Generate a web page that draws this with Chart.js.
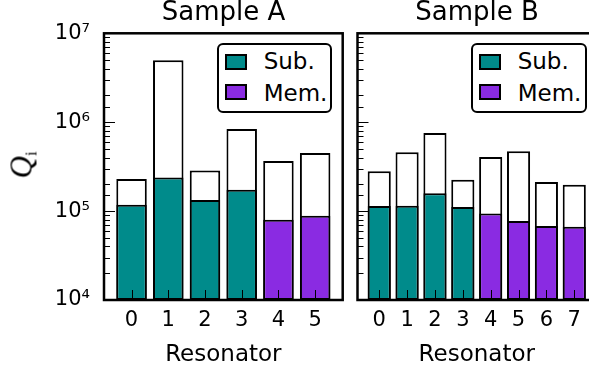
<!DOCTYPE html>
<html>
<head>
<meta charset="utf-8">
<script src="https://cdn.jsdelivr.net/npm/chart.js@4.4.1/dist/chart.umd.min.js"></script>
<style>
  html, body { margin: 0; padding: 0; width: 589px; height: 375px; overflow: hidden; background: #fff; }
  body { position: relative; font-family: "DejaVu Sans", sans-serif; color: #000; }
  canvas { position: absolute; top: 0; }
  #chartA { left: 0; }
  #chartB { left: 350px; }
  .title { position: absolute; top: -2px; font-size: 26px; line-height: 26px; white-space: nowrap; transform: translateX(-50%); }
  .legend { position: absolute; top: 43px; height: 70px; border: 2px solid #000; border-radius: 6px; background: #fff; box-sizing: border-box; }
  .legend .sw { position: absolute; left: 6px; width: 22px; height: 16px; border: 2px solid #000; box-sizing: border-box; }
  .legend .lb { position: absolute; left: 45px; font-size: 23px; line-height: 23px; white-space: nowrap; }
  #ylabel { position: absolute; left: 26px; top: 165px; transform: translate(-50%, -50%) rotate(-90deg); white-space: nowrap; font-family: "Liberation Serif", serif; font-size: 31px; line-height: 31px; }
  #ylabel i { font-style: italic; }
  #ylabel span { font-size: 16px; vertical-align: -5px; }
</style>
</head>
<body>
<canvas id="chartA" width="350" height="375"></canvas>
<canvas id="chartB" width="250" height="375"></canvas>

<div class="title" style="left:223.5px">Sample A</div>
<div class="title" style="left:477px">Sample B</div>
<div id="ylabel"><i>Q</i><span>i</span></div>

<div class="legend" style="left:216.7px; width:115px">
  <div class="sw" style="top:9px; background:#008b8b"></div>
  <div class="lb" style="top:5px">Sub.</div>
  <div class="sw" style="top:39px; background:#8a2be2"></div>
  <div class="lb" style="top:37px">Mem.</div>
</div>
<div class="legend" style="left:470.7px; width:116px">
  <div class="sw" style="top:9px; background:#008b8b"></div>
  <div class="lb" style="top:5px">Sub.</div>
  <div class="sw" style="top:39px; background:#8a2be2"></div>
  <div class="lb" style="top:37px">Mem.</div>
</div>

<script>
// Resonator indices of each sample.
const resonatorsA = [0, 1, 2, 3, 4, 5];
const resonatorsB = [0, 1, 2, 3, 4, 5, 6, 7];

// Layer each resonator sits on.
const layerA = ['Sub.', 'Sub.', 'Sub.', 'Sub.', 'Mem.', 'Mem.'];
const layerB = ['Sub.', 'Sub.', 'Sub.', 'Sub.', 'Mem.', 'Mem.', 'Mem.', 'Mem.'];

// Lower Qi (filled bars) and upper Qi (open bars).
const lowerA = [1.18e5, 2.39e5, 1.33e5, 1.74e5, 7.98e4, 8.85e4];
const upperA = [2.30e5, 4.98e6, 2.86e5, 8.40e5, 3.67e5, 4.49e5];
const lowerB = [1.14e5, 1.15e5, 1.59e5, 1.11e5, 9.40e4, 7.73e4, 6.78e4, 6.67e4];
const upperB = [2.81e5, 4.60e5, 7.58e5, 2.25e5, 4.05e5, 4.72e5, 2.12e5, 1.98e5];

// Y axis range and decade labels.
const yMin = 1e4;
const yMax = 1e7;
const supDigits = { 4: '\u2074', 5: '\u2075', 6: '\u2076', 7: '\u2077' };

const colours = { 'Sub.': '#008b8b', 'Mem.': '#8a2be2' };

Chart.defaults.font.family = '"DejaVu Sans", sans-serif';
Chart.defaults.color = '#000';

function isDecade(v) {
	const l = Math.log10(v);
	return Math.abs(l - Math.round(l)) < 1e-6;
}

// Inward tick marks and the black box round the plot.
const framePlugin = {
	id: 'frame',
	afterDatasetsDraw(chart) {
		const { ctx, chartArea: a, scales: { x, y } } = chart;
		ctx.save();
		ctx.strokeStyle = '#000';
		ctx.lineWidth = 1;
		ctx.beginPath();
		y.ticks.forEach(function (t) {
			const py = Math.round(y.getPixelForValue(t.value)) + 0.5;
			ctx.moveTo(a.left, py);
			ctx.lineTo(a.left + (isDecade(t.value) ? 11 : 6), py);
		});
		x.ticks.forEach(function (t) {
			const px = Math.round(x.getPixelForValue(t.value)) + 0.5;
			ctx.moveTo(px, a.bottom);
			ctx.lineTo(px, a.bottom - 10);
		});
		ctx.stroke();
		ctx.lineWidth = 2.5;
		ctx.strokeRect(a.left, a.top, a.right - a.left, a.bottom - a.top);
		ctx.restore();
	}
};

function makeChart(id, cats, layer, lower, upper, cfg) {
	const sub = [], mem = [], open = [];
	cats.forEach(function (c, i) {
		(layer[i] === 'Sub.' ? sub : mem).push({ x: c, y: lower[i] });
		open.push({ x: c, y: upper[i] });
	});
	const barStyle = {
		grouped: false,
		borderColor: '#000',
		borderWidth: 2,
		borderSkipped: false,
		barPercentage: 0.83,
		categoryPercentage: 1
	};
	return new Chart(document.getElementById(id), {
		type: 'bar',
		data: {
			datasets: [
				Object.assign({ label: 'Sub.', data: sub, backgroundColor: colours['Sub.'] }, barStyle),
				Object.assign({ label: 'Mem.', data: mem, backgroundColor: colours['Mem.'] }, barStyle),
				Object.assign({ label: 'Upper', data: open, backgroundColor: '#fff' }, barStyle)
			]
		},
		options: {
			responsive: false,
			animation: false,
			devicePixelRatio: 1,
			layout: { padding: { left: 0, top: 33.3, right: cfg.padRight, bottom: 0 } },
			plugins: { legend: { display: false }, tooltip: { enabled: false } },
			scales: {
				x: {
					type: 'linear',
					min: cfg.xMin,
					max: cfg.xMax,
					offset: false,
					grid: { display: false, drawTicks: false, offset: false },
					border: { display: false },
					afterBuildTicks: function (s) { s.ticks = cats.map(v => ({ value: v })); },
					afterFit: function (s) { s.height = 75; },
					ticks: { autoSkip: false, maxRotation: 0, padding: 7.7, font: { size: 21 }, callback: v => String(v) },
					title: { display: true, text: 'Resonator', font: { size: 23 }, padding: { top: 0, bottom: 6 } }
				},
				y: {
					type: 'logarithmic',
					min: yMin,
					max: yMax,
					grid: { display: false, drawTicks: false },
					border: { display: false },
					afterFit: function (s) { s.width = cfg.yWidth; },
					ticks: {
						display: cfg.yLabels,
						autoSkip: false,
						padding: 14,
						font: { size: 21 },
						callback: function (v) {
							return isDecade(v) ? '10' + supDigits[Math.round(Math.log10(v))] : '';
						}
					}
				}
			}
		},
		plugins: [framePlugin]
	});
}

makeChart('chartA', resonatorsA, layerA, lowerA, upperA,
	{ xMin: -0.75, xMax: 5.75, yWidth: 104, padRight: 7.3, yLabels: true });
makeChart('chartB', resonatorsB, layerB, lowerB, upperB,
	{ xMin: -0.78, xMax: 7.78, yWidth: 7.5, padRight: 4, yLabels: false });
</script>
</body>
</html>
